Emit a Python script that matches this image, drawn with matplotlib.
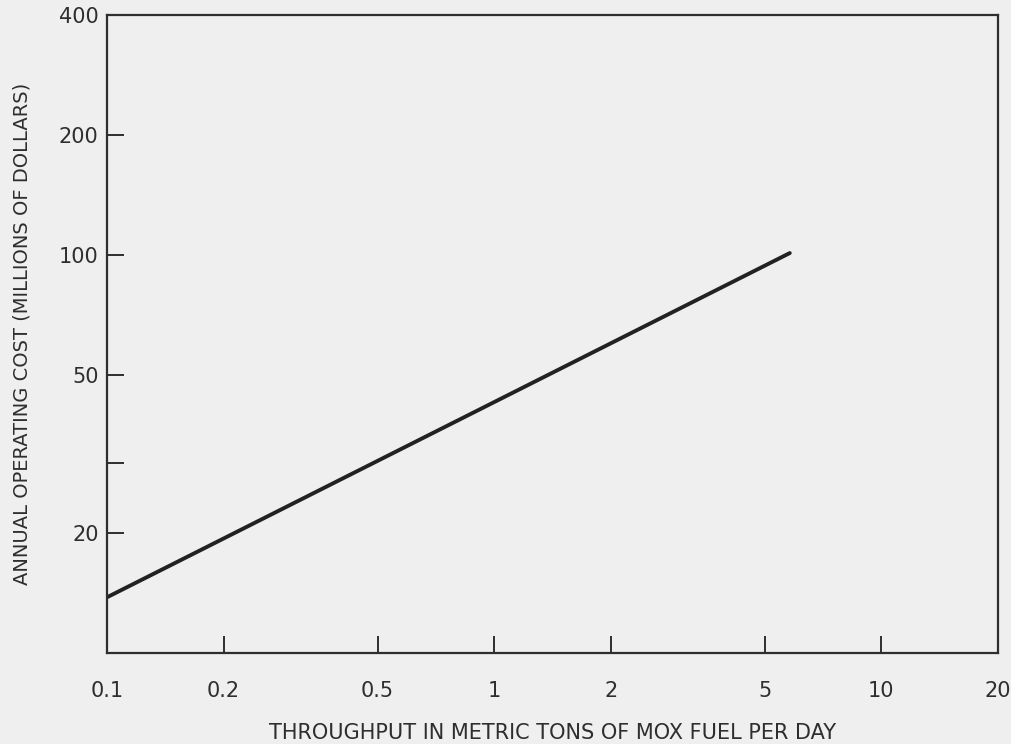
import matplotlib
matplotlib.use("Agg")
import matplotlib.pyplot as plt
from matplotlib.ticker import FixedLocator, FixedFormatter, NullLocator

plt.rcParams['font.family'] = ['DejaVu Sans']

# Data
throughput = [0.1, 5.8]          # metric tons MOX fuel per day
annual_cost = [13.8, 101.0]      # millions of dollars

x_ticks = [0.1, 0.2, 0.5, 1, 2, 5, 10, 20]
x_tick_labels = ["0.1", "0.2", "0.5", "1", "2", "5", "10", "20"]
y_ticks = [20, 30, 50, 100, 200, 400]
y_tick_labels = ["20", "", "50", "100", "200", "400"]

bg = "#efefef"
ink = "#2e2e2e"

fig = plt.figure(figsize=(10.11, 7.44), dpi=100, facecolor=bg)
ax = fig.add_axes([0.1058, 0.1223, 0.9871 - 0.1058, 0.9798 - 0.1223], facecolor=bg)

ax.plot(throughput, annual_cost, color="#222222", linewidth=2.8, solid_capstyle="round")

ax.set_xscale("log")
ax.set_yscale("log")
ax.set_xlim(0.1, 20)
ax.set_ylim(10, 400)

ax.xaxis.set_major_locator(FixedLocator(x_ticks))
ax.xaxis.set_major_formatter(FixedFormatter(x_tick_labels))
ax.xaxis.set_minor_locator(NullLocator())
ax.yaxis.set_major_locator(FixedLocator(y_ticks))
ax.yaxis.set_major_formatter(FixedFormatter(y_tick_labels))
ax.yaxis.set_minor_locator(NullLocator())

ax.tick_params(axis="both", direction="in", length=12, width=1.4, color=ink,
               labelcolor=ink, labelsize=15)
ax.tick_params(axis="x", pad=20)
ax.tick_params(axis="y", pad=6)

for s in ax.spines.values():
    s.set_color(ink)
    s.set_linewidth(1.6)

ax.set_xlabel("THROUGHPUT IN METRIC TONS OF MOX FUEL PER DAY", fontsize=15, color=ink, labelpad=16)
ax.set_ylabel("ANNUAL OPERATING COST (MILLIONS OF DOLLARS)", fontsize=14, color=ink, labelpad=20)

fig.savefig("out.png", dpi=100, facecolor=bg)
